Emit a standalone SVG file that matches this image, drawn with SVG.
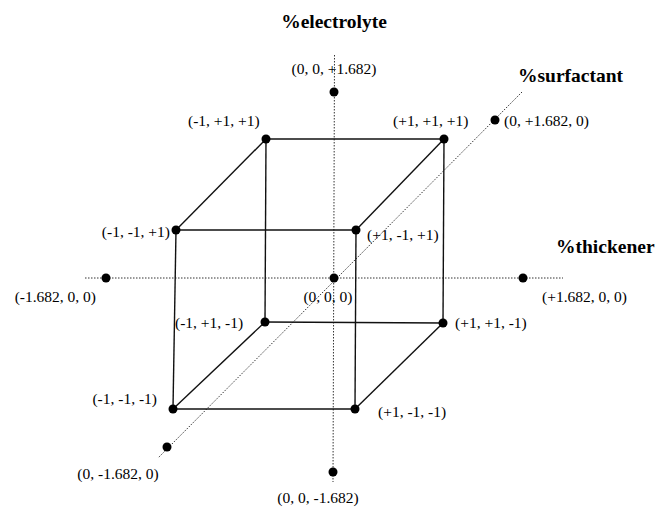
<svg xmlns="http://www.w3.org/2000/svg" width="661" height="507" viewBox="0 0 661 507">
<style>
.axis{stroke:#333;stroke-width:1;stroke-dasharray:1.5 1.5;fill:none}
.edge{stroke:#111;stroke-width:1.4;fill:none}
.dot{fill:#000}
.lbl{font-family:"Liberation Serif","DejaVu Serif",serif;font-size:15.5px;fill:#000}
.ttl{font-family:"Liberation Serif","DejaVu Serif",serif;font-size:19.5px;font-weight:bold;fill:#000}
</style>
<rect width="661" height="507" fill="#fff"/>
<g id="axes">
<line class="axis" x1="334.5" y1="55" x2="333" y2="482"/>
<line class="axis" x1="85" y1="278" x2="563" y2="278"/>
<line class="axis" x1="522" y1="92" x2="158" y2="458"/>
</g>
<g id="connectors">
<line class="edge" x1="176" y1="230" x2="356" y2="230"/>
<line class="edge" x1="356" y1="230" x2="355" y2="409"/>
<line class="edge" x1="355" y1="409" x2="173" y2="409"/>
<line class="edge" x1="173" y1="409" x2="176" y2="230"/>
<line class="edge" x1="266" y1="139" x2="444" y2="139"/>
<line class="edge" x1="444" y1="139" x2="443" y2="323"/>
<line class="edge" x1="443" y1="323" x2="265" y2="322"/>
<line class="edge" x1="265" y1="322" x2="266" y2="139"/>
<line class="edge" x1="176" y1="230" x2="266" y2="139"/>
<line class="edge" x1="356" y1="230" x2="444" y2="139"/>
<line class="edge" x1="355" y1="409" x2="443" y2="323"/>
<line class="edge" x1="173" y1="409" x2="265" y2="322"/>
</g>
<g id="titles">
<text class="ttl" x="334" y="28" text-anchor="middle">%electrolyte</text>
<text class="ttl" x="518" y="82">%surfactant</text>
<text class="ttl" x="556" y="253">%thickener</text>
</g>
<g id="n_00p"><circle class="dot" cx="334" cy="92" r="4.5"/><text class="lbl" x="334" y="74" text-anchor="middle">(0, 0, +1.682)</text></g>
<g id="n_mpp"><circle class="dot" cx="266" cy="139" r="4.5"/><text class="lbl" x="188" y="126">(-1, +1, +1)</text></g>
<g id="n_ppp"><circle class="dot" cx="444" cy="139" r="4.5"/><text class="lbl" x="393" y="126">(+1, +1, +1)</text></g>
<g id="n_0p0"><circle class="dot" cx="495" cy="120" r="4.5"/><text class="lbl" x="504" y="126">(0, +1.682, 0)</text></g>
<g id="n_mmp"><circle class="dot" cx="176" cy="230" r="4.5"/><text class="lbl" x="170" y="237" text-anchor="end">(-1, -1, +1)</text></g>
<g id="n_pmp"><circle class="dot" cx="356" cy="230" r="4.5"/><text class="lbl" x="367" y="240">(+1, -1, +1)</text></g>
<g id="n_m00"><circle class="dot" cx="106" cy="278" r="4.5"/><text class="lbl" x="96" y="302" text-anchor="end">(-1.682, 0, 0)</text></g>
<g id="n_000"><circle class="dot" cx="334" cy="278" r="4.5"/><text class="lbl" x="328" y="302" text-anchor="middle">(0, 0, 0)</text></g>
<g id="n_p00"><circle class="dot" cx="523" cy="278" r="4.5"/><text class="lbl" x="542" y="302">(+1.682, 0, 0)</text></g>
<g id="n_mpm"><circle class="dot" cx="265" cy="322" r="4.5"/><text class="lbl" x="175" y="328">(-1, +1, -1)</text></g>
<g id="n_ppm"><circle class="dot" cx="443" cy="323" r="4.5"/><text class="lbl" x="455" y="328">(+1, +1, -1)</text></g>
<g id="n_mmm"><circle class="dot" cx="173" cy="409" r="4.5"/><text class="lbl" x="157" y="404" text-anchor="end">(-1, -1, -1)</text></g>
<g id="n_pmm"><circle class="dot" cx="355" cy="409" r="4.5"/><text class="lbl" x="378" y="417">(+1, -1, -1)</text></g>
<g id="n_0m0"><circle class="dot" cx="167" cy="447" r="4.5"/><text class="lbl" x="118" y="479" text-anchor="middle">(0, -1.682, 0)</text></g>
<g id="n_00m"><circle class="dot" cx="333" cy="472" r="4.5"/><text class="lbl" x="318" y="503" text-anchor="middle">(0, 0, -1.682)</text></g>
</svg>
